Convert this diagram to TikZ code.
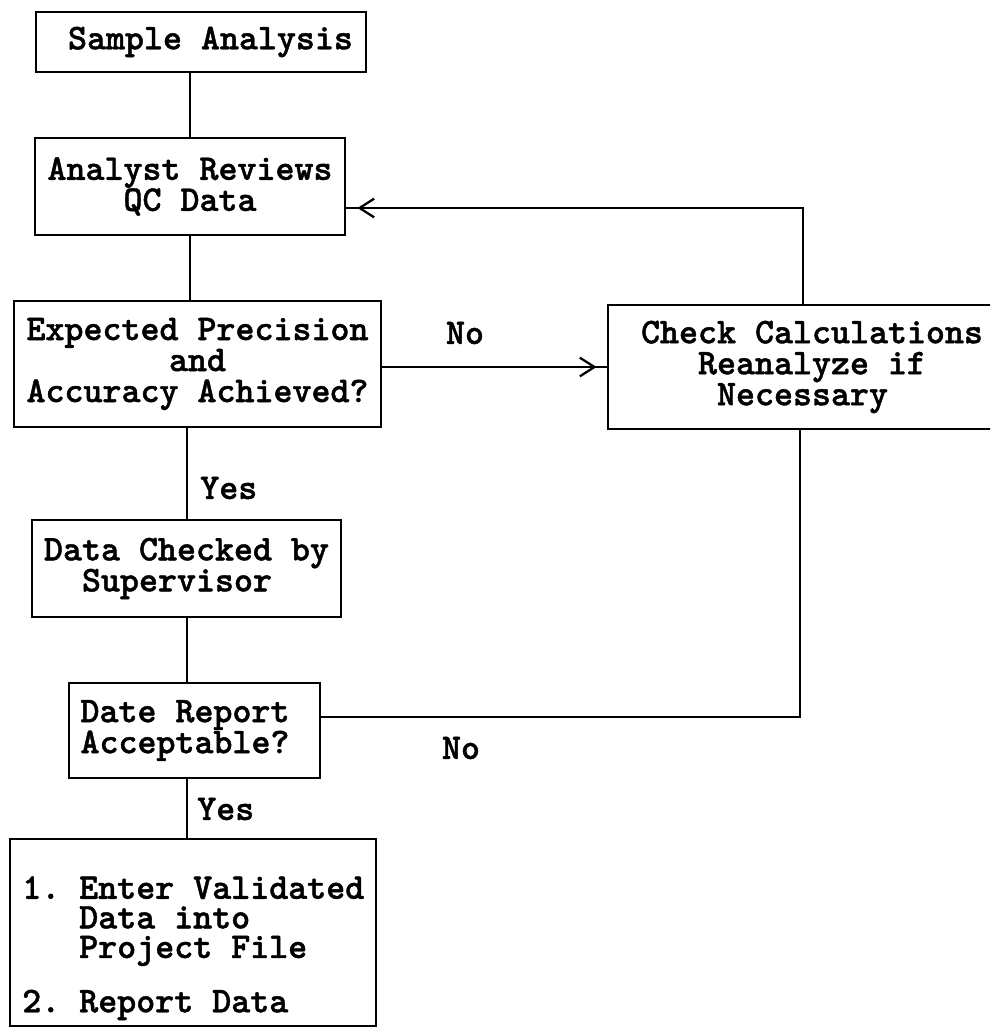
\documentclass[tikz,border=0pt]{standalone}
\usepackage{fontspec}
\newfontfamily\tw[FakeBold=1.2]{lmmonolt10-bold.otf}
\usetikzlibrary{arrows.meta,decorations.markings}
\newcommand{\hc}{\hspace*{14.25pt}}
\begin{document}
\begin{tikzpicture}[x=0.75pt,y=-0.75pt,
  font=\fontsize{27.14pt}{23.25pt}\selectfont\tw\frenchspacing,
  box/.style={draw, line width=2.1pt, rectangle, align=center, inner sep=0pt},
  conn/.style={line width=1.5pt},
  lbl/.style={inner sep=0pt},
  tipmark/.style={postaction={decorate}, decoration={markings,
     mark=at position #1 with {\arrow[line width=1.7pt]{Straight Barb[length=11pt,width=14pt]}}}},
]
\useasboundingbox (0,0) rectangle (990,1029);
\clip (0,0) rectangle (990,1029);

% boxes
\node[box, minimum width=247.5pt, minimum height=45pt] (sample) at (201,42) {\hc Sample Analysis};
\node[box, minimum width=232.5pt, minimum height=72.75pt] (analyst) at (190,186.5) {Analyst Reviews\\QC Data};
\node[box, minimum width=275.25pt, minimum height=94.5pt] (expected) at (197.5,364) {Expected Precision\\and\hc\\Accuracy Achieved?};
\node[box, minimum width=306pt, minimum height=93pt] (check) at (812,367) {Check Calculations\\Reanalyze if\\Necessary\hc};
\node[box, minimum width=231.75pt, minimum height=72.75pt] (datachk) at (186.5,568.5) {Data Checked by\\Supervisor\hc};
\node[box, minimum width=188.25pt, minimum height=71.25pt] (date) at (194.5,730.5) {Date Report\hc\\Acceptable?\hc};
\node[box, minimum width=274.5pt, minimum height=140.25pt] (final) at (193,932.5) {};
\node[lbl, anchor=north west, align=left, font=\fontsize{27.14pt}{22.2pt}\selectfont\tw\frenchspacing] (finaltext) at (22,876)
  {1. Enter Validated\\\hphantom{1. }Data into\\\hphantom{1. }Project File\\[16.8pt]2. Report Data};

% helper coordinates
\coordinate (tl) at (803,208);
\coordinate (br) at (800,717);

% connectors
\draw[conn] (analyst.north |- sample.south) -- (analyst.north);
\draw[conn] (analyst.south) -- (analyst.south |- expected.north);
\draw[conn] (datachk.north |- expected.south) -- (datachk.north);
\draw[conn] (datachk.south) -- (datachk.south |- date.north);
\draw[conn] (datachk.south |- date.south) -- (datachk.south |- final.north);
\draw[line width=1.9pt, tipmark=-7.5pt] (expected.east |- check.west) -- (check.west);
\draw[conn, tipmark=-8.25pt] (tl |- check.north) -- (tl) -- (analyst.east |- tl);
\draw[line width=1.8pt] (date.east |- br) -- (br) -- (br |- check.south);

% labels
\node[lbl, anchor=west] (yes1) at (200,488) {Yes};
\node[lbl] (no1) at (465,333) {No};
\node[lbl] (no2) at (461,748) {No};
\node[lbl, anchor=west] (yes2) at (197,809) {Yes};
\end{tikzpicture}
\end{document}
